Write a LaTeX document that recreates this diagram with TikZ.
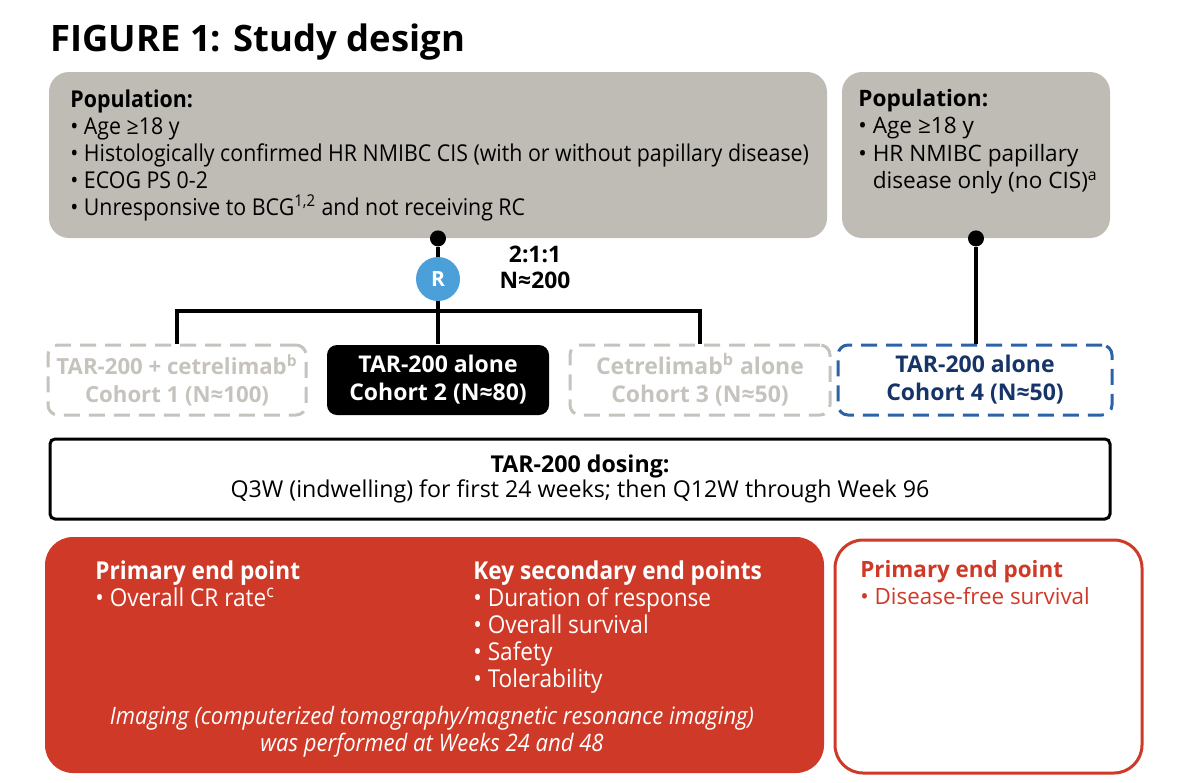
\documentclass[tikz,border=0pt]{standalone}
\usepackage{fontspec}
\setmainfont{Open Sans}
\newfontfamily\cond[FakeStretch=0.92]{Open Sans}
\usepackage{tikz}
\usetikzlibrary{positioning,calc}
\definecolor{popbg}{RGB}{191,187,181}
\definecolor{offgray}{RGB}{198,195,190}
\definecolor{rblue}{RGB}{76,160,218}
\definecolor{cblue}{RGB}{44,98,168}
\definecolor{ctext}{RGB}{22,52,104}
\definecolor{endred}{RGB}{207,57,39}
\tikzset{
  pop/.style={fill=popbg,rounded corners=10pt,minimum height=83pt,inner sep=0pt},
  coh/.style={rounded corners=5pt,line width=1.5pt,minimum height=35pt,inner sep=0pt,align=center,font=\bfseries\fontsize{11.5}{14}\selectfont},
  off/.style={coh,draw=offgray,text=offgray,dash pattern=on 8pt off 4.5pt},
  txt/.style={anchor=north west,inner sep=0pt,align=left},
  ln/.style={line width=2pt},
  dot/.style={circle,fill=black,inner sep=0pt,minimum size=8pt},
}

\begin{document}
\begin{tikzpicture}[x=0.5pt,y=-0.5pt]
  \useasboundingbox (0,0) rectangle (1188,782);
  \node[anchor=base west,inner sep=0pt,font=\bfseries\fontsize{18.2}{18}\selectfont] (title) at (50,51) {FIGURE 1: Study design};
  % populations
  \node[pop,minimum width=389pt] (pop1) at (438,155) {};
  \node[pop,minimum width=134pt] (pop2) at (976,155) {};
  \node[txt,font=\cond\fontsize{11.6}{13.5}\selectfont] (poptxt1) at (70,89)
    {\textbf{Population:}\\
     • Age ≥18 y\\
     • Histologically confirmed HR NMIBC CIS (with or without papillary disease)\\
     • ECOG PS 0-2\\
     • Unresponsive to BCG\textsuperscript{1,2} and not receiving RC};
  \node[txt,font=\fontsize{11.3}{13.7}\selectfont] (poptxt2) at (858,89)
    {\textbf{Population:}\\
     • Age ≥18 y\\
     • HR NMIBC papillary\\
     \phantom{• }disease only (no CIS)\textsuperscript{a}};
  % randomisation
  \node[dot] (d1) at (pop1.south) {};
  \node[circle,fill=rblue,minimum size=22pt,inner sep=0pt,text=white,font=\bfseries\fontsize{10.5}{10.5}\selectfont] (R) at (438,279) {R};
  \node[align=center,inner sep=0pt,font=\bfseries\fontsize{11.4}{13}\selectfont] (ratio) at (535,267) {2:1:1\\N≈200};
  % cohorts
  \node[off,minimum width=129pt,font=\bfseries\fontsize{11.1}{14}\selectfont] (c1) at (177,380) {TAR-200 + cetrelimab\textsuperscript{b}\\Cohort 1 (N≈100)};
  \node[coh,fill=black,text=white,minimum width=111pt] (c2) at (438,380) {TAR-200 alone\\Cohort 2 (N≈80)};
  \node[off,minimum width=130pt] (c3) at (700,380) {Cetrelimab\textsuperscript{b} alone\\Cohort 3 (N≈50)};
  \node[coh,draw=cblue,text=ctext,dash pattern=on 8pt off 4.5pt,minimum width=137pt] (c4) at (975,380) {TAR-200 alone\\Cohort 4 (N≈50)};
  \coordinate (split) at (438,311);
  \draw[ln] (d1) -- (R);
  \draw[ln] (R) -- (c2);
  \draw[ln] (c1.north) |- (split) -| (c3.north);
  \node[dot] (d2) at (pop2.south) {};
  \draw[ln] (d2) -- (d2 |- c4.north);
  % dosing
  \node[draw,line width=1.5pt,rounded corners=2.5pt,minimum width=530pt,minimum height=40pt,align=center,font=\fontsize{11.6}{12.8}\selectfont] (dose) at (580,479)
    {\textbf{TAR-200 dosing:}\\Q3W (indwelling) for first 24 weeks; then Q12W through Week 96};
  % end points
  \node[fill=endred,rounded corners=14pt,minimum width=389.5pt,minimum height=118pt,inner sep=0pt] (ep1) at (434.5,655) {};
  \node[draw=endred,fill=white,line width=1.5pt,rounded corners=14pt,minimum width=153.5pt,minimum height=116.5pt,inner sep=0pt] (ep2) at (988.5,656.5) {};
  \node[txt,text=white,font=\cond\fontsize{12.3}{13.5}\selectfont] (prim1) at (95,560)
    {\textbf{Primary end point}\\• Overall CR rate\textsuperscript{c}};
  \node[txt,text=white,font=\cond\fontsize{12.3}{13.5}\selectfont] (sec1) at (473,560)
    {\textbf{Key secondary end points}\\• Duration of response\\• Overall survival\\• Safety\\• Tolerability};
  \node[align=center,inner sep=0pt,text=white,font=\cond\itshape\fontsize{12}{13.5}\selectfont] (img) at (432,732)
    {Imaging (computerized tomography/magnetic resonance imaging)\\was performed at Weeks 24 and 48};
  \node[txt,text=endred,font=\fontsize{11.2}{13.5}\selectfont] (prim2) at (860,560)
    {\textbf{Primary end point}\\• Disease-free survival};
\end{tikzpicture}
\end{document}
